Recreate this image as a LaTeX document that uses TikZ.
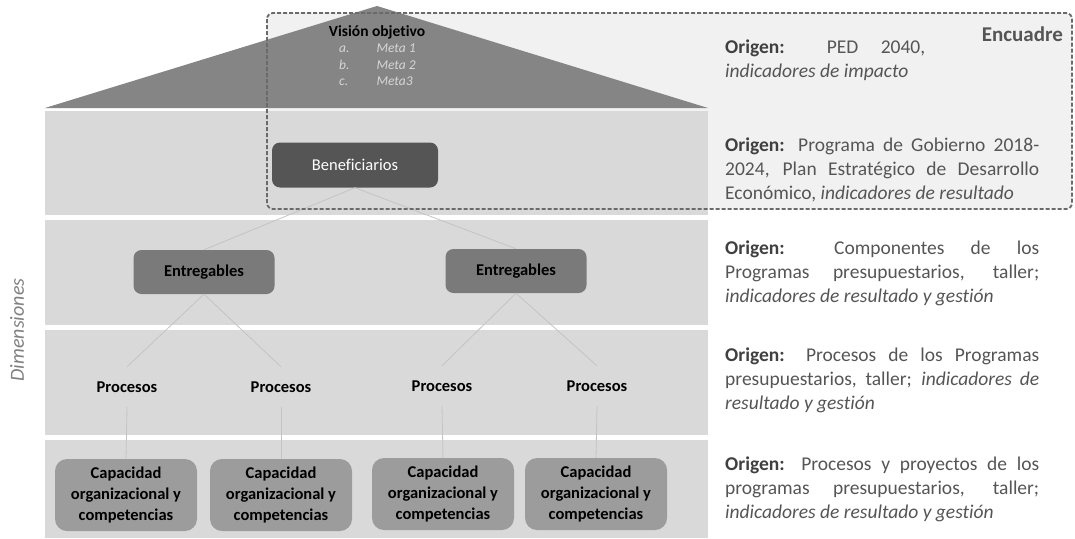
\documentclass[tikz,border=0pt]{standalone}
\usepackage{fontspec}
\setmainfont[Ligatures={NoCommon}]{Carlito}
\definecolor{trigray}{HTML}{858585}
\definecolor{bandgray}{HTML}{D9D9D9}
\definecolor{benefgray}{HTML}{555555}
\definecolor{entgray}{HTML}{7A7A7A}
\definecolor{capgray}{HTML}{9C9C9C}
\definecolor{linegray}{HTML}{C4C4C4}
\definecolor{dashgray}{HTML}{6A6A6A}
\definecolor{boxfill}{HTML}{F1F1F1}
\definecolor{origgray}{HTML}{555555}
\definecolor{headgray}{HTML}{404040}
\definecolor{dimgray}{HTML}{808080}
\definecolor{metagray}{HTML}{D6D6D6}
\begin{document}
\begin{tikzpicture}[x=1pt,y=-1pt,
  boxbase/.style={rounded corners=8pt, align=center, inner sep=0pt,
    font=\fontsize{16.5}{21}\selectfont\bfseries},
  benefbox/.style={boxbase, fill=benefgray, text=white,
    font=\fontsize{16.5}{21}\selectfont, minimum width=166pt, minimum height=45pt},
  entbox/.style={boxbase, fill=entgray, minimum width=141pt, minimum height=44pt},
  capbox/.style={boxbase, rounded corners=12pt, fill=capgray,
    minimum width=142pt, minimum height=72pt},
  proclabel/.style={font=\fontsize{16.5}{21}\selectfont\bfseries,
    minimum width=120pt, minimum height=40pt, inner sep=0pt},
  conn/.style={draw=linegray, line width=0.8pt},
  origin/.style={anchor=north west, text width=314pt, align=justify, inner sep=0pt,
    font=\fontsize{19.5}{24}\selectfont, text=origgray},
  framebox/.style={draw=dashgray, line width=1.8pt, dash pattern=on 4pt off 2pt,
    rounded corners=6pt}
]
\useasboundingbox (0,0) rectangle (1075,538);
\fill[white] (0,0) rectangle (1075,538);
% encuadre background
\fill[boxfill, rounded corners=6pt] (267,13) rectangle (1072,209);
% pyramid roof
\fill[trigray] (45,108) -- (377,6) -- (708,108) -- cycle;
% bands
\fill[bandgray] (45,111) rectangle (708,215);
\fill[bandgray] (45,220) rectangle (708,325);
\fill[bandgray] (45,330) rectangle (708,435);
\fill[bandgray] (45,440) rectangle (708,538);

% roof text
\node[font=\fontsize{15.5}{18}\selectfont\bfseries, inner sep=0pt] (vision) at (377,32) {Visión objetivo};
\node[anchor=north west, inner sep=0pt, text=metagray,
      font=\fontsize{13.5}{16.5}\selectfont\itshape] (metas) at (339,41)
  {\begin{tabular}{@{}l@{\hspace{27pt}}l@{}}a. & Meta 1\\ b. & Meta 2\\ c. & Meta3\end{tabular}};

% nodes
\node[benefbox] (benef) at (355,165) {Beneficiarios};
\node[entbox] (ent1) at (204,272) {Entregables};
\node[entbox] (ent2) at (516,271) {Entregables};
\node[proclabel] (proc1) at (127,387) {Procesos};
\node[proclabel] (proc2) at (281,387) {Procesos};
\node[proclabel] (proc3) at (442,386) {Procesos};
\node[proclabel] (proc4) at (597,386) {Procesos};
\node[capbox] (cap1) at (126,495) {Capacidad\\organizacional y\\competencias};
\node[capbox] (cap2) at (281,495) {Capacidad\\organizacional y\\competencias};
\node[capbox] (cap3) at (443,494) {Capacidad\\organizacional y\\competencias};
\node[capbox] (cap4) at (596,494) {Capacidad\\organizacional y\\competencias};

% connectors
\draw[conn] (benef.south) -- (ent1.north);
\draw[conn] (benef.south) -- (ent2.north);
\draw[conn] (ent1.south) -- (proc1.north);
\draw[conn] (ent1.south) -- (proc2.north);
\draw[conn] (ent2.south) -- (proc3.north);
\draw[conn] (ent2.south) -- (proc4.north);
\draw[conn] (proc1.south) -- (cap1.north);
\draw[conn] (proc2.south) -- (cap2.north);
\draw[conn] (proc3.south) -- (cap3.north);
\draw[conn] (proc4.south) -- (cap4.north);

% encuadre frame
\draw[framebox] (267,13) rectangle (1072,209);
\node[anchor=east, inner sep=0pt, text=origgray,
      font=\fontsize{21}{24}\selectfont\bfseries] (encuadre) at (1063,34) {Encuadre};

% side label
\node[rotate=90, inner sep=0pt, text=dimgray,
      font=\fontsize{20}{24}\selectfont\itshape] (dim) at (17,330) {Dimensiones};

% origin texts
\node[origin, text width=200pt] (o1) at (725,40)
  {\textcolor{headgray}{\bfseries Origen:} PED 2040,\linebreak \textit{indicadores de impacto}};
\node[origin] (o2) at (725,138)
  {\textcolor{headgray}{\bfseries Origen:} Programa de Gobierno 2018-\linebreak 2024, Plan Estratégico de Desarrollo\linebreak Económico, \textit{indicadores de resultado}};
\node[origin] (o3) at (725,241)
  {\textcolor{headgray}{\bfseries Origen:} Componentes de los\linebreak Programas presupuestarios, taller;\linebreak \textit{indicadores de resultado y gestión}};
\node[origin] (o4) at (725,348)
  {\textcolor{headgray}{\bfseries Origen:} Procesos de los Programas\linebreak presupuestarios, taller; \textit{indicadores de}\linebreak \textit{resultado y gestión}};
\node[origin] (o5) at (725,457)
  {\textcolor{headgray}{\bfseries Origen:} Procesos y proyectos de los\linebreak programas presupuestarios, taller;\linebreak \textit{indicadores de resultado y gestión}};
\end{tikzpicture}
\end{document}
